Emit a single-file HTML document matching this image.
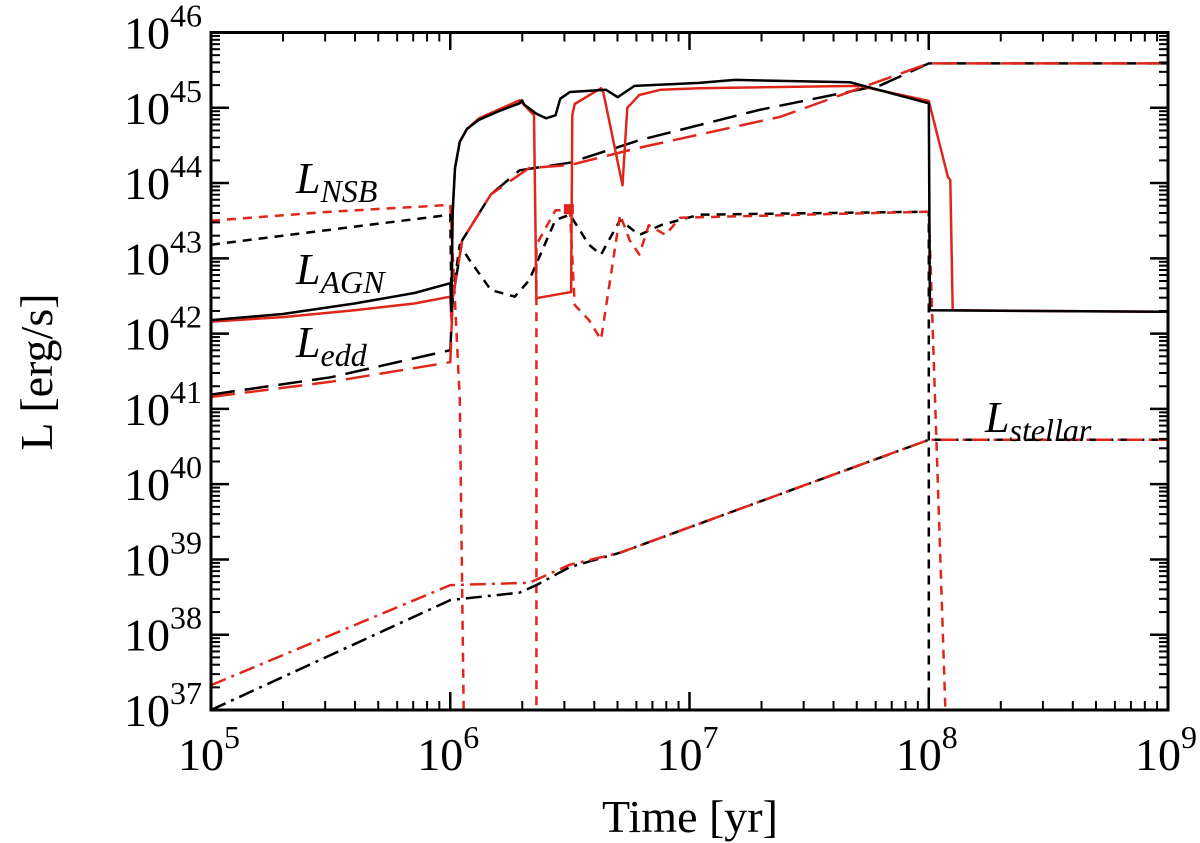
<!DOCTYPE html>
<html><head><meta charset="utf-8"><style>
body{margin:0;background:#fff;}
svg{display:block;font-family:"Liberation Serif",serif;}
</style></head><body>
<svg id="chart" width="1200" height="843" xmlns="http://www.w3.org/2000/svg">
<defs><clipPath id="pc"><rect x="211" y="32.5" width="957" height="677.5"/></clipPath></defs>
<g id="plot" clip-path="url(#pc)"></g>
<g id="axes"></g>
</svg>
<script>
const xDecades=[5,6,7,8,9];
const yDecades=[37,38,39,40,41,42,43,44,45,46];
// series: [log10 t, log10 L]
const agnBlack=[[5,42.18],[5.3,42.26],[5.6,42.4],[5.85,42.54],[6,42.67],[6.005,42.3],[6.01,43.6],[6.02,44.2],[6.04,44.55],[6.07,44.72],[6.12,44.84],[6.2,44.95],[6.29,45.06],[6.30,45.1],[6.31,45.04],[6.36,44.92],[6.40,44.86],[6.44,44.9],[6.46,45.12],[6.50,45.21],[6.65,45.24],[6.70,45.14],[6.77,45.29],[7.04,45.33],[7.19,45.37],[7.67,45.34],[8.0,45.06],[8.005,42.31],[9,42.29]];
const agnRed=[[5,42.16],[5.3,42.22],[5.6,42.31],[5.85,42.4],[6,42.49],[6.005,42.2],[6.01,43.6],[6.02,44.2],[6.04,44.55],[6.07,44.72],[6.12,44.86],[6.29,45.1],[6.35,44.9],[6.36,42.47],[6.5,42.55],[6.505,42.55],[6.51,44.9],[6.52,45.05],[6.63,45.26],[6.64,45.2],[6.72,43.97],[6.74,45.0],[6.79,45.17],[6.88,45.24],[7.04,45.26],[7.71,45.29],[8.0,45.09],[8.08,44.08],[8.09,44.04],[8.10,42.31],[9,42.29]];
const eddBlack=[[5,41.19],[5.5,41.42],[6,41.78],[6.01,42.45],[6.05,43.24],[6.17,43.85],[6.29,44.17],[6.50,44.27],[6.79,44.57],[7.29,44.97],[7.80,45.30],[8.0,45.59],[9,45.59]];
const eddRed=[[5,41.16],[5.5,41.36],[6,41.62],[6.01,42.45],[6.05,43.24],[6.17,43.85],[6.33,44.2],[6.50,44.24],[6.79,44.47],[7.38,44.88],[8.0,45.59],[9,45.59]];
const nsbBlack=[[5,43.18],[5.5,43.38],[6,43.58],[6.005,42.4],[6.04,43.18],[6.08,42.98],[6.17,42.58],[6.27,42.49],[6.33,42.71],[6.44,43.51],[6.50,43.58],[6.58,43.18],[6.63,43.05],[6.71,43.51],[6.79,43.31],[6.88,43.44],[7.04,43.58],[8.0,43.62],[8.0,36]];
const nsbRed=[[5,43.5],[5.5,43.62],[6,43.71],[6.04,41.12],[6.06,36]];
const nsbRed2=[[6.36,36],[6.36,43.18],[6.44,43.64],[6.50,43.64],[6.52,42.38],[6.58,42.18],[6.63,41.92],[6.71,43.58],[6.75,43.24],[6.79,43.05],[6.83,43.44],[6.90,43.31],[6.96,43.54],[8.0,43.62],[8.08,36]];
const stellarBlack=[[5,37.0],[6,38.46],[6.29,38.56],[6.36,38.66],[6.50,38.9],[6.71,39.09],[8.0,40.59],[9,40.59]];
const stellarRed=[[5,37.33],[6,38.66],[6.33,38.69],[6.50,38.93],[6.71,39.09],[8.0,40.59],[9,40.59]];
const X=v=>211+(v-5)*239.25;
const Y=v=>32.5+(46-v)*75.28;
const NS="http://www.w3.org/2000/svg";
function mk(tag,attrs,parent){const e=document.createElementNS(NS,tag);for(const k in attrs)e.setAttribute(k,attrs[k]);parent.appendChild(e);return e;}
const plot=document.getElementById('plot'),axes=document.getElementById('axes');
function line(data,color,dash,name,w){
 const p=mk('path',{d:data.map((d,i)=>(i?'L':'M')+X(d[0]).toFixed(1)+','+Y(d[1]).toFixed(1)).join(''),fill:'none',stroke:color,'stroke-width':w||2.5,'stroke-dasharray':dash,'stroke-linejoin':'round'},plot);
 
 
}
const R='#e0261b';
line(nsbBlack,'#000','9,7','nsb-black-line');
line(nsbRed,R,'9,7','nsb-red-line');
line(nsbRed2,R,'9,7','nsb-red-line-2');
line(eddBlack,'#000','24,10','edd-black-line');
line(eddRed,R,'24,10','edd-red-line');
line(stellarBlack,'#000','16,6,3,6','stellar-black-line');
line(stellarRed,R,'16,6,3,6','stellar-red-line');
line(agnRed,R,'none','agn-red-line');
line(agnBlack,'#000','none','agn-black-line');
const sq=mk('rect',{x:X(6.5)-6,y:Y(43.64)-6,width:10,height:10,fill:R},plot);


const fr=mk('rect',{x:211,y:32.5,width:957,height:677.5,fill:'none',stroke:'#000','stroke-width':3},axes);


xDecades.forEach((d,i)=>{
 const x=X(d);
 mk('line',{x1:x,x2:x,y1:710,y2:692,stroke:'#000','stroke-width':2.5},axes);
 mk('line',{x1:x,x2:x,y1:32.5,y2:50,stroke:'#000','stroke-width':2.5},axes);
 if(i<xDecades.length-1)for(let m=2;m<10;m++){const xm=X(d+Math.log10(m));
  mk('line',{x1:xm,x2:xm,y1:710,y2:701,stroke:'#000','stroke-width':2},axes);
  mk('line',{x1:xm,x2:xm,y1:32.5,y2:41.5,stroke:'#000','stroke-width':2},axes);}
 const t=mk('text',{x:x-2,y:770,'font-size':46,'text-anchor':'middle'},axes);
 
 
 t.textContent='10';
 const s=mk('tspan',{dy:-22,'font-size':32},t);s.textContent=d;
});
yDecades.forEach((d,i)=>{
 const y=Y(d);
 mk('line',{x1:211,x2:229,y1:y,y2:y,stroke:'#000','stroke-width':2.5},axes);
 mk('line',{x1:1168,x2:1150,y1:y,y2:y,stroke:'#000','stroke-width':2.5},axes);
 if(i<yDecades.length-1)for(let m=2;m<10;m++){const ym=Y(d+Math.log10(m));
  mk('line',{x1:211,x2:220,y1:ym,y2:ym,stroke:'#000','stroke-width':2},axes);
  mk('line',{x1:1168,x2:1159,y1:ym,y2:ym,stroke:'#000','stroke-width':2},axes);}
 const t=mk('text',{x:202,y:y+16,'font-size':46,'text-anchor':'end'},axes);
 
 
 t.textContent='10';
 const s=mk('tspan',{dy:-22,'font-size':32},t);s.textContent=d;
});
function lab(x,y,main,sub,name){
 const t=mk('text',{x:x,y:y,'font-size':44,'font-style':'italic'},axes);
 
 
 t.textContent=main;
 const s=mk('tspan',{dy:9,'font-size':32},t);s.textContent=sub;
}
lab(296,193,'L','NSB','label-nsb');
lab(296,284,'L','AGN','label-agn');
lab(296,357,'L','edd','label-edd');
lab(985,432,'L','stellar','label-stellar');
const xt=mk('text',{x:690,y:832,'font-size':46,'text-anchor':'middle'},axes);


xt.textContent='Time [yr]';
const yt=mk('text',{x:0,y:0,'font-size':46,'text-anchor':'middle',transform:'translate(52,372) rotate(-90)'},axes);


yt.textContent='L [erg/s]';
</script>
</body></html>
